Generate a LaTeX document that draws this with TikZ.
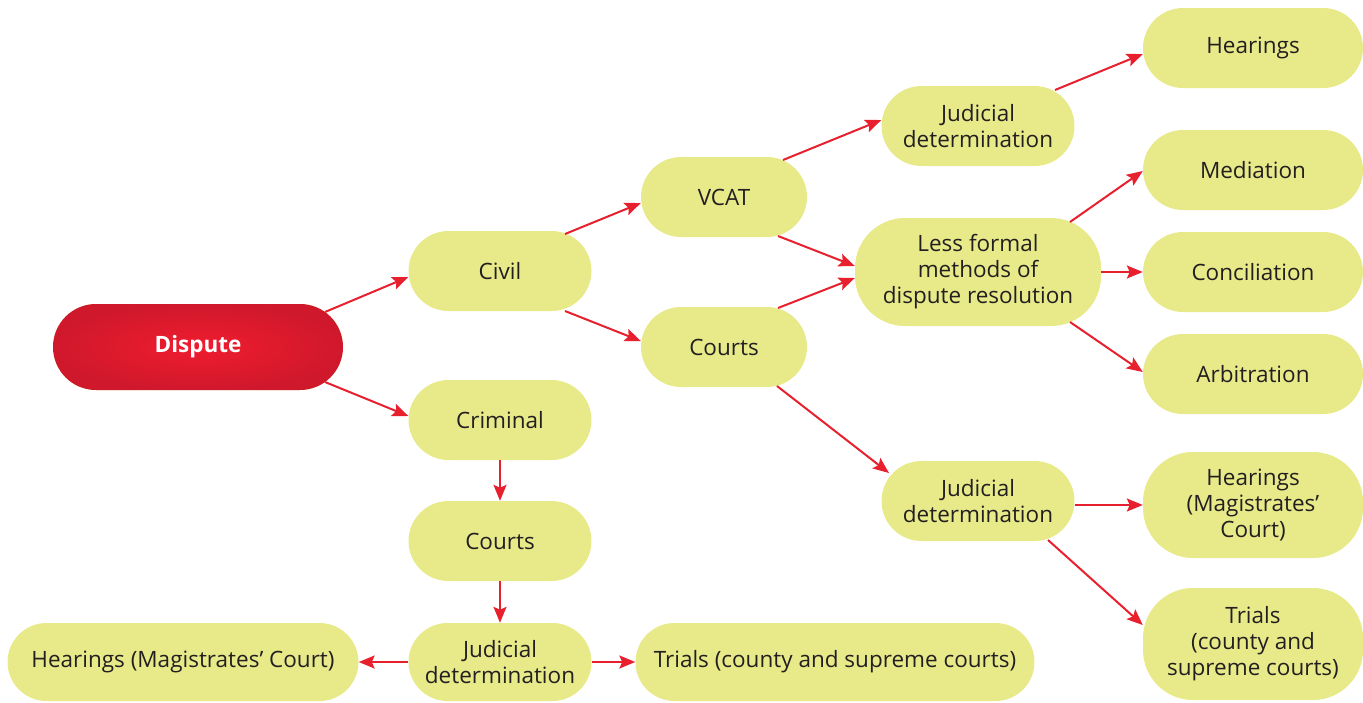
\documentclass[tikz,border=0pt]{standalone}
\usepackage{fontspec}
\setmainfont{Open Sans}
\usetikzlibrary{arrows.meta}
\definecolor{pill}{HTML}{E8EA8A}
\definecolor{arr}{HTML}{E8202E}
\definecolor{txt}{HTML}{231F20}
\definecolor{redin}{HTML}{F01C2E}
\definecolor{redout}{HTML}{D0182D}
\begin{document}
\begin{tikzpicture}[x=1pt,y=-1pt,
  pillbox/.style={fill=pill,rounded corners=#1,inner sep=0pt,align=center,text=txt,
    font=\fontsize{22.5}{26}\selectfont},
  pillbox/.default=40,
  link/.style={draw=arr,line width=2pt,-{Stealth[length=16pt,width=13pt,inset=3pt]}}]
\useasboundingbox (0,0) rectangle (1363,702);
% nodes
\node[pillbox=43,minimum width=290,minimum height=86,inner color=redin,outer color=redout,text=white,font=\fontsize{22.5}{26}\selectfont\bfseries] (dispute) at (198,347) {Dispute};
\node[pillbox,minimum width=183,minimum height=80] (civil) at (500,271) {Civil};
\node[pillbox,minimum width=183,minimum height=80] (criminal) at (500,420) {Criminal};
\node[pillbox,minimum width=183,minimum height=80] (ccourts) at (500,541) {Courts};
\node[pillbox=39,minimum width=183,minimum height=78] (cjd) at (500,662) {Judicial\\determination};
\node[pillbox=39,minimum width=351,minimum height=78] (chear) at (183,662) {Hearings (Magistrates’ Court)};
\node[pillbox=39,minimum width=399,minimum height=78] (ctrial) at (835,662) {Trials (county and supreme courts)};
\node[pillbox,minimum width=166,minimum height=80] (vcat) at (724,197) {VCAT};
\node[pillbox,minimum width=166,minimum height=80] (vcourts) at (724,347) {Courts};
\node[pillbox,minimum width=193,minimum height=80] (jdtop) at (978,126) {Judicial\\determination};
\node[pillbox=50,minimum width=246,minimum height=108] (less) at (978,272) {Less formal\\methods of\\dispute resolution};
\node[pillbox,minimum width=193,minimum height=80] (jdlow) at (978,501) {Judicial\\determination};
\node[pillbox,minimum width=220,minimum height=80] (hear1) at (1253,48) {Hearings};
\node[pillbox,minimum width=220,minimum height=80] (med) at (1253,170) {Mediation};
\node[pillbox,minimum width=220,minimum height=80] (conc) at (1253,272) {Conciliation};
\node[pillbox,minimum width=220,minimum height=80] (arb) at (1253,374) {Arbitration};
\node[pillbox=50,minimum width=220,minimum height=106] (hear2) at (1253,505) {Hearings\\(Magistrates’\\Court)};
\node[pillbox=50,minimum width=220,minimum height=112] (trial2) at (1253,644) {Trials\\(county and\\supreme courts)};
% connectors
\draw[link] ([shift={(127,-35)}]dispute.center) -- ([shift={(0,6)}]civil.west);
\draw[link] ([shift={(127,35)}]dispute.center) -- ([shift={(0,-4)}]criminal.west);
\draw[link] ([shift={(65,-37)}]civil.center) -- ([shift={(0,6)}]vcat.west);
\draw[link] ([shift={(65,40)}]civil.center) -- ([shift={(0,-6)}]vcourts.west);
\draw[link] ([shift={(59,-37)}]vcat.center) -- ([shift={(0,-6)}]jdtop.west);
\draw[link] ([shift={(54,39)}]vcat.center) -- ([shift={(0,-6)}]less.west);
\draw[link] ([shift={(54,-39)}]vcourts.center) -- ([shift={(0,6)}]less.west);
\draw[link] ([shift={(53,39)}]vcourts.center) -- ([shift={(-89,-28)}]jdlow.center);
\draw[link] ([shift={(77,-36)}]jdtop.center) -- ([shift={(0,6)}]hear1.west);
\draw[link] ([shift={(92,-50)}]less.center) -- ([shift={(0,1)}]med.west);
\draw[link] (less.east) -- (conc.west);
\draw[link] ([shift={(92,50)}]less.center) -- ([shift={(0,-2)}]arb.west);
\draw[link] ([shift={(0,4)}]jdlow.east) -- (hear2.west);
\draw[link] ([shift={(70,39)}]jdlow.center) -- ([shift={(0,-19)}]trial2.west);
\draw[link] (criminal.south) -- (ccourts.north);
\draw[link] (ccourts.south) -- (cjd.north);
\draw[link] (cjd.west) -- (chear.east);
\draw[link] (cjd.east) -- (ctrial.west);
\end{tikzpicture}
\end{document}
